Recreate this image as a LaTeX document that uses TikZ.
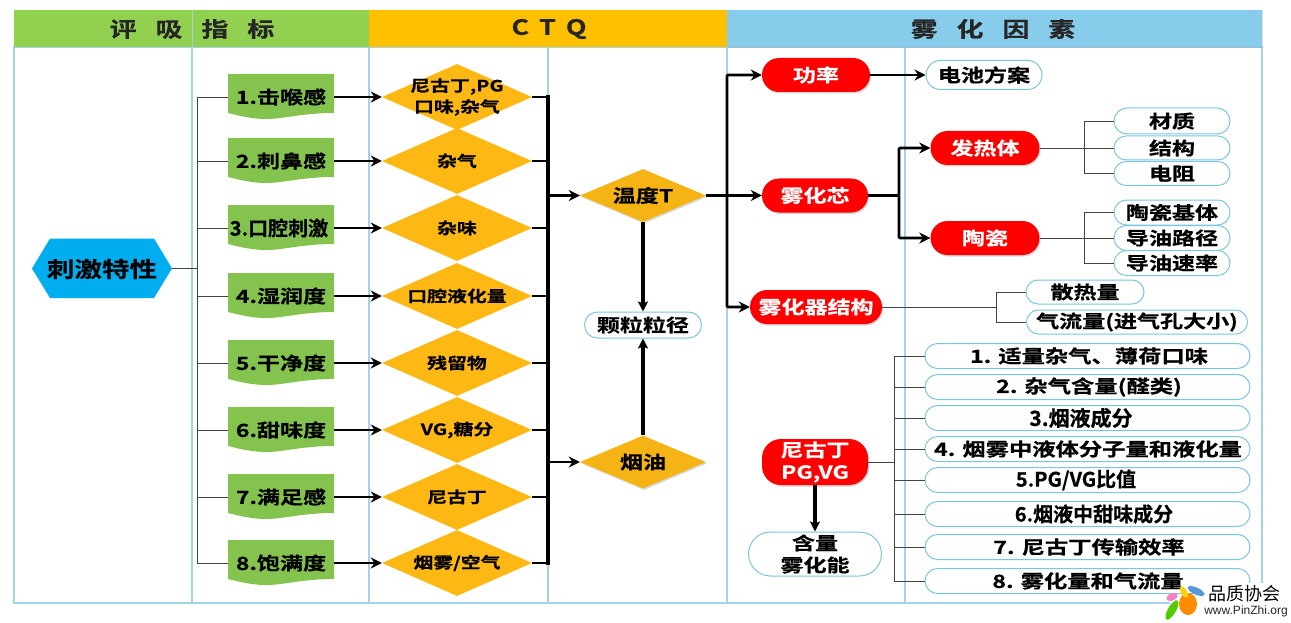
\documentclass[tikz,border=0pt]{standalone}
\usepackage{fontspec}
\setmainfont{Noto Sans CJK SC}[BoldFont={* Bold},BoldFeatures={FakeBold=0.5},FakeStretch=1.28]
\newfontfamily\narrowf{Noto Sans CJK SC}[BoldFont={* Bold},BoldFeatures={FakeBold=0.5}]
\newfontfamily\wmfont{Noto Sans CJK SC}
\newfontfamily\wmlatin{Liberation Sans}
\usetikzlibrary{shapes.geometric,shapes.misc,arrows.meta,shadows}
\definecolor{hgreen}{HTML}{92D050}
\definecolor{horange}{HTML}{FFC000}
\definecolor{hblue}{HTML}{87CCEA}
\definecolor{hexblue}{HTML}{00AEEF}
\definecolor{docgreen}{HTML}{84C44E}
\definecolor{dia}{HTML}{FDB813}
\definecolor{dia2}{HTML}{F5B414}
\definecolor{lane}{HTML}{A5D3E6}
\definecolor{pill}{HTML}{7CC6DC}
\definecolor{bus}{HTML}{444444}
\newcommand\hs{\hspace{19pt}}
\newcommand\hsq{\hspace{10pt}}
\newcommand\fz[1]{\fontsize{#1}{21}\selectfont\bfseries}
\newcommand\nz[1]{\narrowf\fontsize{#1}{21}\selectfont\bfseries}
\tikzset{
 x=1pt,y=-1pt,
 txt/.style={font=\fontsize{18}{22}\selectfont\bfseries,align=center,inner sep=0pt},
 header/.style={font=\fontsize{21}{24}\selectfont\bfseries,inner sep=0pt,text=black!85},
 hdrbar/.style={minimum height=37pt,inner sep=0pt,anchor=west},
 dianode/.style={diamond,aspect=2.27,fill=dia,minimum width=150pt,minimum height=66pt,inner sep=0pt},
 bigdia/.style={txt,diamond,fill=dia2,aspect=2.4,minimum width=126pt,minimum height=53pt,inner sep=0pt,drop shadow={shadow xshift=1pt,shadow yshift=-1.5pt,opacity=.3}},
 pillnode/.style={txt,draw=pill,line width=1pt,fill=white,rounded rectangle,minimum height=25pt},
 rednode/.style={txt,text=white,fill=red,rounded rectangle,minimum height=34pt,drop shadow={shadow xshift=1pt,shadow yshift=-1.5pt,opacity=.35}},
 thickarr/.style={line width=2.7pt,black,-{Stealth[length=11pt,width=11pt]}},
 vertarr/.style={line width=3.6pt,black,-{Stealth[length=10pt,width=10pt,inset=2pt]}},
 thinline/.style={line width=.9pt,bus},
 lanel/.style={line width=1.1pt,lane},
}
\begin{document}
\begin{tikzpicture}
\useasboundingbox (0,0) rectangle (1291,623);
% lanes
\draw[lanel] (14,47) rectangle (1262,603);
\foreach \xx in {192,369,548,727,905} \draw[lanel] (\xx,47) -- (\xx,603);
% headers
\node[hdrbar,fill=hgreen,minimum width=355pt] (hA) at (14,28.5) {};
\node[hdrbar,fill=horange,minimum width=358pt] (hB) at (369,28.5) {};
\node[hdrbar,fill=hblue,minimum width=535pt,drop shadow={shadow xshift=1pt,shadow yshift=-1pt,opacity=.25}] (hC) at (727,28.5) {};
\draw[line width=1pt,lane] (192,10) -- (192,47);
\node[header] (tA) at (192,29) {评\hs 吸\hs 指\hs 标};
\node[header] (tB) at (549,29) {C\hsq T\hsq Q};
\node[header] (tC) at (993,29) {雾\hs 化\hs 因\hs 素};
% root
\path[fill=hexblue] (32,268.5) -- (50,238.5) -- (154,238.5) -- (172,268.5) -- (154,298) -- (50,298) -- cycle;
\node[txt,font=\fz{21.5}] (root) at (102,269) {刺激特性};
\coordinate (rootE) at (172,268.5);
\coordinate (busL) at (197,268.5);
\draw[thinline] (rootE) -- (busL);
% rows
\coordinate (busCT) at (548,195);
\foreach \n/\yy/\lab/\dlab/\fnt/\tx in {
 1/97/{1.击喉感}/{尼古丁,PG\\口味,杂气}/{\fz{18}}/281,
 2/161/{2.刺鼻感}/{杂气}/{\fz{18}}/281,
 3/228/{3.口腔刺激}/{杂味}/{\nz{20}}/279,
 4/296/{4.湿润度}/{口腔液化量}/{\fz{18}}/281,
 5/363/{5.干净度}/{残留物}/{\fz{18}}/281,
 6/430/{6.甜味度}/{VG,糖分}/{\fz{18}}/281,
 7/497/{7.满足感}/{尼古丁}/{\fz{18}}/281,
 8/563/{8.饱满度}/{烟雾/空气}/{\fz{18}}/281}{
  \fill[docgreen] (228,\yy-23) -- (334,\yy-23) -- (334,\yy+16)
     .. controls (300,\yy+16) and (280,\yy+23) .. (262,\yy+22)
     .. controls (248,\yy+21) and (240,\yy+19) .. (228,\yy+16) -- cycle;
  \node[txt,font=\fnt] (d\n) at (\tx,\yy) {\lab};
  \node[dianode] (q\n) at (457,\yy) {};
  \node[txt,font=\fz{15.5}] (qt\n) at (457,\yy) {\dlab};
  \coordinate (dl\n) at (228,\yy);
  \coordinate (dr\n) at (334,\yy);
  \coordinate (bl\n) at (197,\yy);
  \coordinate (br\n) at (548,\yy);
  \draw[thinline] (bl\n) -- (dl\n);
  \draw[thickarr] (dr\n) -- (q\n.west);
  \draw[line width=2.7pt] (q\n.east) -- (br\n);
}
\draw[thinline] (bl1) -- (bl8);
\draw[line width=3.4pt,black,line cap=rect] (br1) -- (br8);
% T and oil
\node[bigdia] (T) at (643,195.5) {温度T};
\node[bigdia] (oil) at (643,462) {烟油};
\node[pillnode,minimum width=117pt,minimum height=26pt] (grain) at (643,325) {颗粒粒径};
\coordinate (busCO) at (548,462);
\draw[thickarr] (busCT |- T.west) -- (T.west);
\draw[thickarr] (busCO) -- (oil.west);
\draw[vertarr] (T.south) -- (grain.north);
\draw[vertarr] (oil.north) -- (grain.south);
% red
\node[rednode,minimum width=108pt] (pw) at (816,75) {功率};
\node[rednode,minimum width=106pt] (core) at (815,195.5) {雾化芯};
\node[rednode,minimum width=132pt] (struct) at (816,307) {雾化器结构};
\node[txt,text=white,fill=red,rounded corners=19pt,minimum width=106pt,minimum height=46pt,font=\fontsize{18}{22}\selectfont\bfseries,drop shadow={shadow xshift=1pt,shadow yshift=-1.5pt,opacity=.35}] (nic) at (815,462) {尼古丁\\PG,VG};
\node[rednode,minimum width=109pt] (heat) at (985,148) {发热体};
\node[rednode,minimum width=109pt] (cer) at (985,238) {陶瓷};
% T bus
\coordinate (bT) at (727,195.5);
\coordinate (bTa) at (727,75);
\coordinate (bTb) at (727,307);
\draw[line width=2.7pt] (T.east) -- (bT);
\draw[thickarr] (bT) -- (core.west);
\draw[thickarr,rounded corners=1pt] (bT) -- (bTa) -- (pw.west);
\draw[thickarr,rounded corners=1pt] (bT) -- (bTb) -- (struct.west);
% battery
\node[pillnode,minimum width=116pt,minimum height=29pt] (bat) at (984,75) {电池方案};
\draw[thickarr] (pw.east) -- (bat.west);
% core bus
\coordinate (bC) at (899,195.5);
\coordinate (bCa) at (899,148);
\coordinate (bCb) at (899,238);
\draw[line width=2.7pt] (core.east) -- (bC);
\draw[thickarr,rounded corners=1pt] (bC) -- (bCa) -- (heat.west);
\draw[thickarr,rounded corners=1pt] (bC) -- (bCb) -- (cer.west);
% leaf groups
\foreach \nm/\yy/\lab/\hh in {
 a1/121/材质/26, a2/148/结构/24, a3/173.5/电阻/24,
 b1/212.5/陶瓷基体/25, b2/238/导油路径/25, b3/263/导油速率/25}{
  \node[pillnode,minimum width=116pt,minimum height=\hh pt] (\nm) at (1172,\yy) {\lab};
}
\coordinate (ba) at (1084,148);
\coordinate (bb) at (1084,238);
\draw[thinline] (heat.east) -- (a2.west);
\draw[thinline] (ba |- a1.west) -- (a1.west);
\draw[thinline] (ba |- a3.west) -- (a3.west);
\draw[thinline] (ba |- a1.west) -- (ba |- a3.west);
\draw[thinline] (cer.east) -- (b2.west);
\draw[thinline] (bb |- b1.west) -- (b1.west);
\draw[thinline] (bb |- b3.west) -- (b3.west);
\draw[thinline] (bb |- b1.west) -- (bb |- b3.west);
% struct leaves
\node[pillnode,minimum width=118pt,minimum height=24pt] (c1) at (1085,292) {散热量};
\node[pillnode,minimum width=221pt,minimum height=24pt] (c2) at (1137,322) {气流量(进气孔大小)};
\coordinate (bs) at (996,307);
\draw[thinline] (struct.east) -- (bs);
\draw[thinline] (bs |- c1.west) -- (c1.west);
\draw[thinline] (bs |- c2.west) -- (c2.west);
\draw[thinline] (bs |- c1.west) -- (bs |- c2.west);
% list
\foreach \n/\yy/\lab/\fnt/\tx in {
 1/356/{1. 适量杂气、薄荷口味}/{\fz{18.2}}/1089,
 2/387/{2. 杂气含量(醛类)}/{\fz{18.2}}/1089,
 3/418/{3.烟液成分}/{\nz{21}}/1081,
 4/449/{4. 烟雾中液体分子量和液化量}/{\fz{18.2}}/1088,
 5/480/{5.PG/VG比值}/{\nz{20}}/1076,
 6/514/{6.烟液中甜味成分}/{\nz{20}}/1094,
 7/547/{7. 尼古丁传输效率}/{\fz{18.2}}/1089,
 8/581/{8. 雾化量和气流量}/{\fz{18.2}}/1088}{
  \node[pillnode,minimum width=325pt,minimum height=25pt] (L\n) at (1087.5,\yy) {};
  \node[txt,font=\fnt] (Lt\n) at (\tx,\yy) {\lab};
  \coordinate (bL\n) at (894,\yy);
  \draw[thinline] (bL\n) -- (L\n.west);
}
\coordinate (bN) at (894,462);
\draw[thinline] (nic.east) -- (bN);
\draw[thinline] (bL1) -- (bL8);
\node[txt,draw=pill,line width=1pt,fill=white,rounded rectangle,minimum width=133pt,minimum height=44pt] (cont) at (815,554) {含量\\雾化能};
\draw[vertarr] (nic.south) -- (cont.north);
% watermark
\fill[white] (1170,596) rectangle (1291,620);
\fill[white] (1205,583) rectangle (1291,596);
\fill[orange!90!yellow] (1188,604) ellipse [x radius=9pt,y radius=11pt];
\fill[green!60!yellow!80!black,rotate around={-30:(1172,610)}] (1172,610) ellipse [x radius=4pt,y radius=11pt];
\fill[magenta!50,rotate around={25:(1172,597)}] (1172,597) ellipse [x radius=6pt,y radius=3.5pt];
\fill[yellow!70!orange,rotate around={30:(1184,592)}] (1184,592) ellipse [x radius=3pt,y radius=6.5pt];
\fill[cyan!60!blue!70,rotate around={-25:(1196,591)}] (1196,591) ellipse [x radius=9pt,y radius=3.5pt];
\node[inner sep=0pt,font=\wmfont\fontsize{18}{20}\selectfont,text=black] (wm1) at (1244,594) {品质协会};
\node[inner sep=0pt,font=\wmlatin\fontsize{12}{14}\selectfont,text=black!85] (wm2) at (1246,611) {www.PinZhi.org};
\end{tikzpicture}
\end{document}
